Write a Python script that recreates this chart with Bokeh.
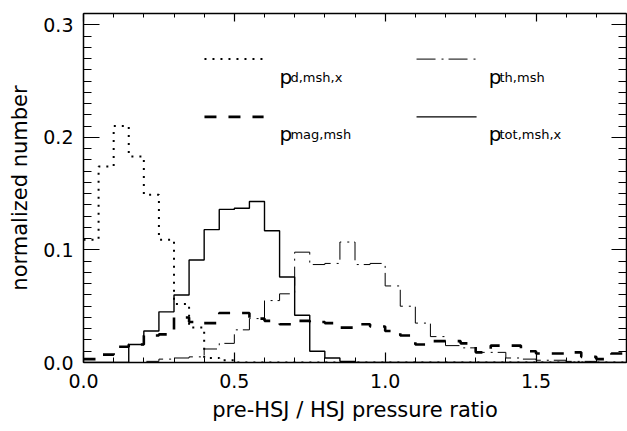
from bokeh.plotting import figure
from bokeh.models import LinearAxis, Range1d, FixedTicker, CustomLabelingPolicy
from bokeh.core.properties import value
from bokeh.embed import file_html
from bokeh.resources import INLINE

# ---------------- data ----------------
bin_edges = [0.00, 0.05, 0.10, 0.15, 0.20, 0.25, 0.30, 0.35, 0.40, 0.45,
             0.50, 0.55, 0.60, 0.65, 0.70, 0.75, 0.80, 0.85, 0.90, 0.95,
             1.00, 1.05, 1.10, 1.15, 1.20, 1.25, 1.30, 1.35, 1.40, 1.45,
             1.50, 1.55, 1.60, 1.65, 1.70, 1.75, 1.80]

p_d_msh_x = [0.109, 0.174, 0.210, 0.183, 0.149, 0.109, 0.052, 0.031, 0.004, 0.002,
             0.000, 0.000, 0.000, 0.000, 0.000, 0.000, 0.000, 0.000, 0.000, 0.000,
             0.000, 0.000, 0.000, 0.000, 0.000, 0.000, 0.000, 0.000, 0.000, 0.000,
             0.000, 0.000, 0.000, 0.000, 0.000, 0.000]

p_th_msh = [0.000, 0.000, 0.000, 0.000, 0.001, 0.003, 0.004, 0.005, 0.012, 0.017,
            0.029, 0.039, 0.055, 0.061, 0.098, 0.087, 0.088, 0.107, 0.087, 0.088,
            0.068, 0.050, 0.035, 0.023, 0.015, 0.013, 0.009, 0.009, 0.004, 0.003,
            0.002, 0.002, 0.001, 0.001, 0.000, 0.000]

p_mag_msh = [0.003, 0.007, 0.014, 0.016, 0.024, 0.025, 0.040, 0.036, 0.035, 0.044,
             0.044, 0.039, 0.037, 0.034, 0.037, 0.036, 0.035, 0.031, 0.034, 0.032,
             0.028, 0.024, 0.016, 0.019, 0.019, 0.017, 0.009, 0.015, 0.015, 0.010,
             0.008, 0.008, 0.009, 0.005, 0.003, 0.008]

p_tot_msh_x = [0.000, 0.000, 0.000, 0.016, 0.028, 0.045, 0.060, 0.091, 0.118, 0.136,
               0.137, 0.143, 0.117, 0.076, 0.042, 0.010, 0.004, 0.001, 0.000, 0.000,
               0.000, 0.000, 0.000, 0.000, 0.000, 0.000, 0.000, 0.000, 0.000, 0.000,
               0.000, 0.000, 0.000, 0.000, 0.000, 0.000]

x_major_ticks = [0.0, 0.5, 1.0, 1.5]
x_tick_labels = ["0.0", "0.5", "1.0", "1.5"]
x_minor_ticks = [0.1, 0.2, 0.3, 0.4, 0.6, 0.7, 0.8, 0.9, 1.1, 1.2, 1.3, 1.4, 1.6, 1.7]
y_major_ticks = [0.0, 0.1, 0.2, 0.3]
y_tick_labels = ["0.0", "0.1", "0.2", "0.3"]
y_minor_ticks = [i / 100 for i in range(32)]

x_title = "pre-HSJ / HSJ pressure ratio"
y_title = "normalized number"

legend_main = ["p", "p", "p", "p"]
legend_sub = ["d,msh,x", "th,msh", "mag,msh", "tot,msh,x"]

# ---------------- styles / positions ----------------
FONT = "DejaVu Sans"
series = [p_d_msh_x, p_th_msh, p_mag_msh, p_tot_msh_x]
dashes = ["2 6", "19 6 2 5", "12 12", "solid"]
widths = [2.0, 1.0, 2.6, 1.4]
leg_line_x = [(0.401, 0.597), (1.104, 1.303), (0.401, 0.597), (1.104, 1.303)]
leg_line_y = [0.2695, 0.2695, 0.2182, 0.2182]
leg_text_x = [0.650, 1.343, 0.650, 1.343]
leg_sub_x = [0.686, 1.379, 0.686, 1.379]
leg_text_y = [0.2540, 0.2540, 0.2034, 0.2034]
leg_sub_y = [0.2531, 0.2531, 0.2025, 0.2025]

p = figure(width=627, height=431, output_backend="svg", toolbar_location=None,
           x_range=Range1d(bin_edges[0], bin_edges[-1]), y_range=Range1d(0, 0.31),
           min_border_left=83, min_border_right=1, min_border_top=13, min_border_bottom=69,
           background_fill_color="white", border_fill_color="white")
p.grid.visible = False
p.outline_line_color = None

# histograms
for vals, dash, w in zip(series, dashes, widths):
    ys = list(vals) + [vals[-1]]
    p.step(x=bin_edges, y=ys, mode="after", line_color="black",
           line_width=w, line_dash=dash)

no_labels = CustomLabelingPolicy(code="""
try { for (let i = 0; i < indices.size; i++) { indices.unset(i) } } catch (e) {}
return indices
""")

# axes
def style_axis(ax, major, minor, labels, tick_major, tick_minor, show_labels):
    ax.ticker = FixedTicker(ticks=major, minor_ticks=minor)
    ax.axis_line_color = "black"
    ax.axis_line_width = 1.5
    ax.major_tick_line_color = "black"
    ax.minor_tick_line_color = "black"
    ax.major_tick_line_width = 1.2
    ax.minor_tick_line_width = 1.0
    ax.major_tick_in = tick_major
    ax.major_tick_out = 0
    ax.minor_tick_in = tick_minor
    ax.minor_tick_out = 0
    if show_labels:
        ax.major_label_overrides = {t: l for t, l in zip(major, labels)}
        ax.major_label_text_font = FONT
        ax.major_label_text_font_size = "19px"
        ax.major_label_text_color = "black"
        ax.axis_label_text_font = FONT
        ax.axis_label_text_font_size = "21px"
        ax.axis_label_text_font_style = "normal"
        ax.axis_label_text_color = "black"
    else:
        ax.major_label_policy = no_labels
        ax.major_label_text_font_size = "0px"
        ax.major_label_standoff = 0
        ax.axis_label = None

xb = p.xaxis[0]
yl = p.yaxis[0]
style_axis(xb, x_major_ticks, x_minor_ticks, x_tick_labels, 10, 5, True)
style_axis(yl, y_major_ticks, y_minor_ticks, y_tick_labels, 16, 8, True)
xb.axis_label = x_title
yl.axis_label = y_title
xb.major_label_standoff = 11
xb.axis_label_standoff = 7
yl.major_label_standoff = 10
yl.axis_label_standoff = 8

xt = LinearAxis()
style_axis(xt, x_major_ticks, x_minor_ticks, x_tick_labels, 8, 4, False)
p.add_layout(xt, "above")
yr = LinearAxis()
style_axis(yr, y_major_ticks, y_minor_ticks, y_tick_labels, 15, 8, False)
p.add_layout(yr, "right")

# legend
for i in range(4):
    p.line(x=list(leg_line_x[i]), y=[leg_line_y[i], leg_line_y[i]], line_color="black",
           line_width=widths[i], line_dash=dashes[i])
p.text(x=leg_text_x, y=leg_text_y, text=legend_main, text_font=value(FONT),
       text_font_size="20px", text_baseline="alphabetic", text_align="left",
       text_color="black")
p.text(x=leg_sub_x, y=leg_sub_y, text=legend_sub, text_font=value(FONT),
       text_font_size="13px", text_baseline="alphabetic", text_align="left",
       text_color="black")

open("out.html", "w").write(file_html(p, INLINE))
